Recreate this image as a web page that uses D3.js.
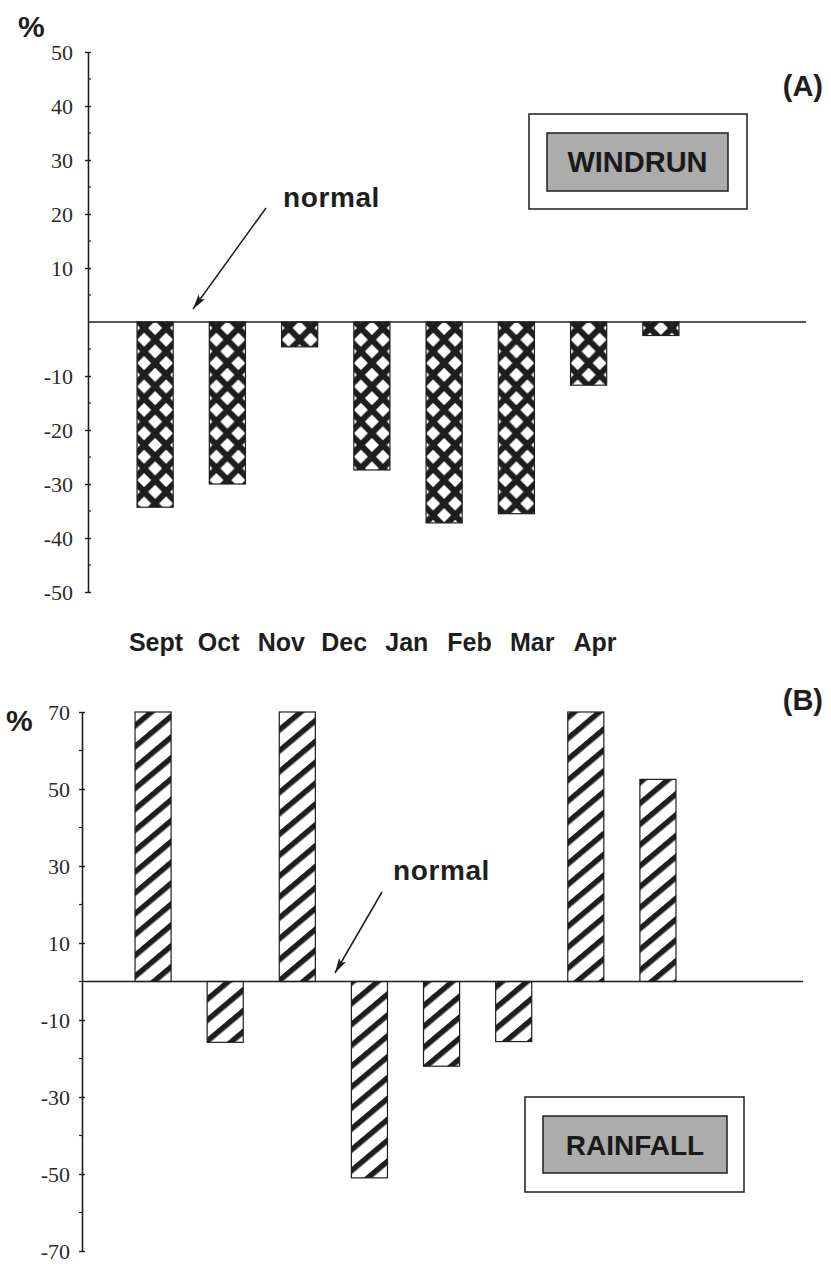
<!DOCTYPE html>
<html>
<head>
<meta charset="utf-8">
<script src="https://cdn.jsdelivr.net/npm/d3@7"></script>
<style>
  html, body { margin: 0; padding: 0; background: #fff; }
  svg { display: block; }
</style>
</head>
<body>
<svg id="chart" width="831" height="1264"></svg>
<script>
// ---------- data ----------
const months = ["Sept", "Oct", "Nov", "Dec", "Jan", "Feb", "Mar", "Apr"];
const windrun = [-34.3, -30.0, -4.6, -27.4, -37.2, -35.5, -11.7, -2.5];
const rainfall = [70, -15.8, 70, -51, -22, -15.6, 70, 52.5];
const windrunTicks = [50, 40, 30, 20, 10, -10, -20, -30, -40, -50];
const windrunMinor = [45, 35, 25, 15, 5, -5, -15, -25, -35, -45];
const rainTicks = [70, 50, 30, 10, -10, -30, -50, -70];
const rainMinor = [60, 40, 20, 0, -20, -40, -60];

const svg = d3.select("#chart");
const defs = svg.append("defs");
const ink = "#1e1e1e";
const sans = "'Liberation Sans', Arial, Helvetica, sans-serif";
const serif = "'Liberation Serif', 'Times New Roman', serif";
const fmt = d => String(d);

// arrow marker
defs.append("marker")
  .attr("id", "arrow").attr("markerUnits", "userSpaceOnUse")
  .attr("markerWidth", 16).attr("markerHeight", 10)
  .attr("refX", 15).attr("refY", 5).attr("orient", "auto")
  .append("path").attr("d", "M0,1 L15,5 L0,9 L3,5 Z").attr("fill", ink);

// diagonal hatch for rainfall
const hatch = defs.append("pattern")
  .attr("id", "hatch").attr("patternUnits", "userSpaceOnUse")
  .attr("width", 16).attr("height", 16)
  .attr("patternTransform", "rotate(-40)");
hatch.append("rect").attr("width", 16).attr("height", 16).attr("fill", "#fff");
hatch.append("rect").attr("y", 0).attr("width", 16).attr("height", 5.5).attr("fill", ink);

// ---------- panel A ----------
const yA = d3.scaleLinear().domain([-50, 50]).range([592, 52]);
const xA = d3.scaleBand().domain(months).range([119, 697]).paddingInner(0.5).paddingOuter(0.25);
const axA = 88;

// per-bar diamond lattice patterns
const PW = 22, PH = 23.4, DH = 7.0;
const diamond = (cx, cy) => `M${cx},${cy - DH} L${cx + DH},${cy} L${cx},${cy + DH} L${cx - DH},${cy} Z`;
const dp = defs.selectAll("pattern.dm").data(months).join("pattern")
  .attr("class", "dm")
  .attr("id", (d, i) => "dm" + i)
  .attr("patternUnits", "userSpaceOnUse")
  .attr("width", PW).attr("height", PH)
  .attr("x", d => xA(d) + xA.bandwidth() / 2 - PW / 2)
  .attr("y", yA(0) + 6 - PH / 2);
dp.append("rect").attr("width", PW).attr("height", PH).attr("fill", ink);
dp.append("path").attr("fill", "#fff")
  .attr("d", [diamond(PW / 2, PH / 2), diamond(0, 0), diamond(PW, 0), diamond(0, PH), diamond(PW, PH)].join(" "));

const gA = svg.append("g");
gA.selectAll("rect.bar").data(windrun).join("rect")
  .attr("class", "bar")
  .attr("x", (d, i) => xA(months[i]))
  .attr("width", xA.bandwidth())
  .attr("y", d => yA(Math.max(0, d)))
  .attr("height", d => Math.abs(yA(d) - yA(0)))
  .attr("fill", (d, i) => `url(#dm${i})`)
  .attr("stroke", ink).attr("stroke-width", 1.2);

// zero line
gA.append("line").attr("x1", axA).attr("x2", 806).attr("y1", yA(0)).attr("y2", yA(0))
  .attr("stroke", ink).attr("stroke-width", 1.6);

// axis A
const axisA = gA.append("g").attr("transform", `translate(${axA},0)`)
  .call(d3.axisLeft(yA).tickValues(windrunTicks).tickFormat(fmt).tickSizeInner(3).tickSizeOuter(0).tickPadding(12));
axisA.select(".domain").attr("stroke", ink).attr("stroke-width", 1.6);
axisA.selectAll(".tick line").attr("x1", -3).attr("x2", 3).attr("stroke", ink).attr("stroke-width", 1.4);
axisA.selectAll(".tick text").attr("font-family", serif)
  .attr("font-size", 22).attr("fill", "#2a2a2a");
axisA.selectAll(".minor").data(windrunMinor).join("line").attr("class", "minor")
  .attr("x1", 0).attr("x2", 3).attr("y1", d => yA(d)).attr("y2", d => yA(d))
  .attr("stroke", ink).attr("stroke-width", 1.2);

// percent + (A)
svg.append("text").attr("x", 18).attr("y", 37).text("%")
  .attr("font-family", sans).attr("font-weight", "bold")
  .attr("font-size", 30).attr("fill", ink);
svg.append("text").attr("x", 823).attr("y", 96).attr("text-anchor", "end").text("(A)")
  .attr("font-family", sans).attr("font-weight", "bold")
  .attr("font-size", 29).attr("fill", ink);

// normal annotation A
svg.append("text").attr("x", 283).attr("y", 207).text("normal")
  .attr("font-family", sans).attr("font-weight", "bold")
  .attr("font-size", 28).attr("letter-spacing", 0.6).attr("fill", ink);
svg.append("line").attr("x1", 266).attr("y1", 208).attr("x2", 193).attr("y2", 309)
  .attr("stroke", ink).attr("stroke-width", 1.5).attr("marker-end", "url(#arrow)");

// label boxes
function labelBox(x0, y0, w0, h0, x1, y1, w1, h1, label, fs) {
  svg.append("rect").attr("x", x0).attr("y", y0).attr("width", w0).attr("height", h0)
    .attr("fill", "#fff").attr("stroke", ink).attr("stroke-width", 1.5);
  svg.append("rect").attr("x", x1).attr("y", y1).attr("width", w1).attr("height", h1)
    .attr("fill", "#acacac").attr("stroke", ink).attr("stroke-width", 1.5);
  svg.append("text").attr("x", x1 + w1 / 2).attr("y", y1 + h1 / 2).attr("dy", "0.36em")
    .attr("text-anchor", "middle").text(label)
    .attr("font-family", sans).attr("font-weight", "bold")
    .attr("font-size", fs).attr("fill", "#1a1a1a");
}
labelBox(529, 114, 218, 95, 547, 133, 181, 58, "WINDRUN", 29);

// month labels (own spacing as in the figure)
const xLab = d3.scalePoint().domain(months).range([156, 595]);
svg.append("g").selectAll("text").data(months).join("text")
  .attr("x", d => xLab(d)).attr("y", 651).attr("text-anchor", "middle").text(d => d)
  .attr("font-family", sans).attr("font-weight", "bold")
  .attr("font-size", 25).attr("fill", ink);

// ---------- panel B ----------
const yB = d3.scaleLinear().domain([-70, 70]).range([1251, 712]);
const xB = d3.scaleBand().domain(months).range([117, 694]).paddingInner(0.5).paddingOuter(0.25);
const axB = 82;

const gB = svg.append("g");
gB.selectAll("rect.bar").data(rainfall).join("rect")
  .attr("class", "bar")
  .attr("x", (d, i) => xB(months[i]))
  .attr("width", xB.bandwidth())
  .attr("y", d => yB(Math.max(0, d)))
  .attr("height", d => Math.abs(yB(d) - yB(0)))
  .attr("fill", "url(#hatch)")
  .attr("stroke", ink).attr("stroke-width", 1.2);

gB.append("line").attr("x1", axB).attr("x2", 803).attr("y1", yB(0)).attr("y2", yB(0))
  .attr("stroke", ink).attr("stroke-width", 1.6);

const axisB = gB.append("g").attr("transform", `translate(${axB},0)`)
  .call(d3.axisLeft(yB).tickValues(rainTicks).tickFormat(fmt).tickSizeInner(3).tickSizeOuter(0).tickPadding(9));
axisB.select(".domain").attr("stroke", ink).attr("stroke-width", 1.6);
axisB.selectAll(".tick line").attr("x1", -3).attr("x2", 3).attr("stroke", ink).attr("stroke-width", 1.4);
axisB.selectAll(".tick text").attr("font-family", serif)
  .attr("font-size", 22).attr("fill", "#2a2a2a");
axisB.selectAll(".minor").data(rainMinor).join("line").attr("class", "minor")
  .attr("x1", -3).attr("x2", 0).attr("y1", d => yB(d)).attr("y2", d => yB(d))
  .attr("stroke", ink).attr("stroke-width", 1.2);

svg.append("text").attr("x", 6).attr("y", 731).text("%")
  .attr("font-family", sans).attr("font-weight", "bold")
  .attr("font-size", 30).attr("fill", ink);
svg.append("text").attr("x", 823).attr("y", 710).attr("text-anchor", "end").text("(B)")
  .attr("font-family", sans).attr("font-weight", "bold")
  .attr("font-size", 29).attr("fill", ink);

svg.append("text").attr("x", 393).attr("y", 880).text("normal")
  .attr("font-family", sans).attr("font-weight", "bold")
  .attr("font-size", 28).attr("letter-spacing", 0.6).attr("fill", ink);
svg.append("line").attr("x1", 382).attr("y1", 892).attr("x2", 335).attr("y2", 973)
  .attr("stroke", ink).attr("stroke-width", 1.5).attr("marker-end", "url(#arrow)");

labelBox(525, 1097, 219, 95, 543, 1116, 184, 57, "RAINFALL", 28);
</script>
</body>
</html>
